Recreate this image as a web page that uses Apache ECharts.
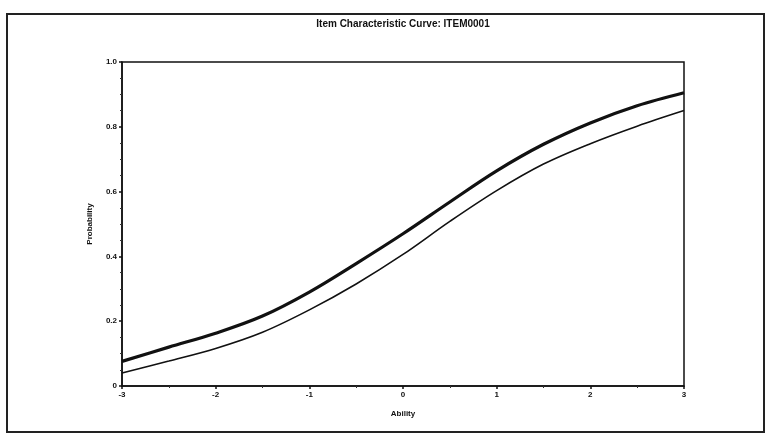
<!DOCTYPE html>
<html>
<head>
<meta charset="utf-8">
<script src="https://cdn.jsdelivr.net/npm/echarts@6/dist/echarts.min.js"></script>
<style>
  html, body { margin: 0; padding: 0; background: #fff; }
  #chart { width: 771px; height: 436px; }
</style>
</head>
<body>
<div id="chart"></div>
<script>
// Ability points (theta) and the two item characteristic curves
const ability = [-3, -2.5, -2, -1.5, -1, -0.5, 0, 0.5, 1, 1.5, 2, 2.5, 3];
const curveUpper = [0.076, 0.12, 0.163, 0.216, 0.29, 0.378, 0.47, 0.568, 0.664, 0.746, 0.812, 0.865, 0.905];
const curveLower = [0.04, 0.077, 0.116, 0.166, 0.235, 0.315, 0.406, 0.508, 0.603, 0.685, 0.748, 0.802, 0.85];
const xTicks = [-3, -2, -1, 0, 1, 2, 3];
const yTicks = [0, 0.2, 0.4, 0.6, 0.8, 1.0];

const chart = echarts.init(document.getElementById('chart'), null, { renderer: 'canvas' });

const pair = (xs, ys) => xs.map((x, i) => [x, ys[i]]);
const labelFont = { color: '#111', fontSize: 8, fontWeight: 'bold', fontFamily: 'Liberation Sans, Arial, sans-serif' };

chart.setOption({
  backgroundColor: '#fff',
  animation: false,
  title: {
    text: 'Item Characteristic Curve: ITEM0001',
    left: 398,
    textAlign: 'center',
    top: 14,
    textStyle: { color: '#111', fontSize: 10, fontWeight: 'bold', fontFamily: 'Liberation Sans, Arial, sans-serif' }
  },
  graphic: [{
    type: 'rect',
    shape: { x: 7, y: 14, width: 757, height: 418 },
    style: { fill: 'none', stroke: '#222', lineWidth: 2 },
    silent: true,
    z: -1
  }],
  grid: {
    left: 122, right: 87, top: 62, bottom: 50,
    show: true, borderColor: '#111', borderWidth: 1.5, backgroundColor: 'transparent'
  },
  xAxis: {
    type: 'value',
    min: xTicks[0], max: xTicks[xTicks.length - 1], interval: 1,
    name: 'Ability', nameLocation: 'middle', nameGap: 24,
    nameTextStyle: labelFont,
    axisLine: { onZero: false, lineStyle: { color: '#111', width: 1.5 } },
    axisTick: { show: true, length: 3, lineStyle: { color: '#111', width: 1.5 } },
    minorTick: { show: true, splitNumber: 2, length: 2, lineStyle: { color: '#333' } },
    axisLabel: { ...labelFont, margin: 5, formatter: v => String(v) },
    splitLine: { show: false }
  },
  yAxis: {
    type: 'value',
    min: yTicks[0], max: yTicks[yTicks.length - 1], interval: 0.2,
    name: 'Probability', nameLocation: 'middle', nameGap: 28, nameRotate: 90,
    nameTextStyle: labelFont,
    axisLine: { onZero: false, lineStyle: { color: '#111', width: 1.5 } },
    axisTick: { show: true, length: 3, lineStyle: { color: '#111', width: 1.5 } },
    minorTick: { show: true, splitNumber: 4, length: 2, lineStyle: { color: '#333' } },
    axisLabel: { ...labelFont, margin: 5, formatter: v => (v === 0 ? '0' : v.toFixed(1)) },
    splitLine: { show: false }
  },
  series: [
    {
      type: 'line', smooth: 0.35, symbol: 'none',
      data: pair(ability, curveUpper),
      lineStyle: { color: '#111', width: 3.2 }
    },
    {
      type: 'line', smooth: 0.35, symbol: 'none',
      data: pair(ability, curveLower),
      lineStyle: { color: '#111', width: 1.6 }
    }
  ]
});
</script>
</body>
</html>
